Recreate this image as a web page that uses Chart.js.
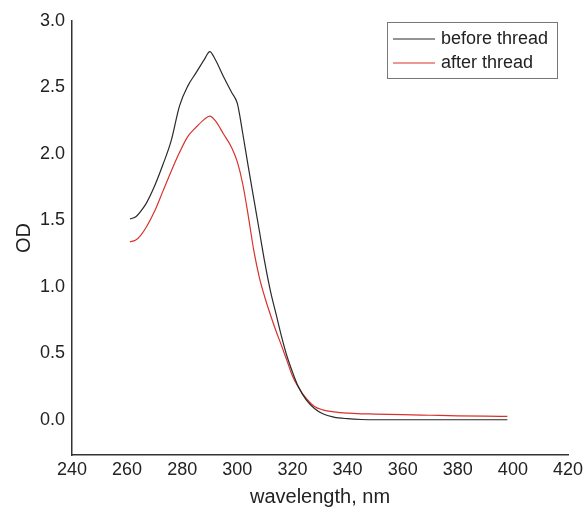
<!DOCTYPE html>
<html>
<head>
<meta charset="utf-8">
<script src="https://cdn.jsdelivr.net/npm/chart.js@4.4.1/dist/chart.umd.min.js"></script>
<style>
  html, body { margin: 0; padding: 0; background: #fff; }
  #wrap { width: 583px; height: 507px; }
</style>
</head>
<body>
<div id="wrap"><canvas id="odChart"></canvas></div>
<script>
// ── DATA ─────────────────────────────────────────────────────────────────────
const wavelength = [261, 263, 265, 267, 270, 273, 276, 279, 282, 285, 288, 290, 292, 295, 298, 300,
  302, 304, 306, 308, 310, 312, 314, 316, 318, 320, 322, 325, 328, 331, 335, 340, 345, 350, 360, 370, 380, 390, 398];
const beforeThread = [1.51, 1.525, 1.57, 1.63, 1.76, 1.92, 2.10, 2.36, 2.51, 2.61, 2.71, 2.77, 2.71, 2.58, 2.46, 2.38,
  2.15, 1.90, 1.66, 1.42, 1.18, 0.97, 0.80, 0.63, 0.48, 0.36, 0.255, 0.15, 0.085, 0.045, 0.02, 0.008, 0.002, 0.0, 0.0, 0.0, 0.0, 0.0, 0.0];
const afterThread = [1.34, 1.35, 1.39, 1.45, 1.57, 1.72, 1.87, 2.01, 2.13, 2.20, 2.26, 2.285, 2.25, 2.15, 2.045, 1.94,
  1.77, 1.53, 1.27, 1.07, 0.92, 0.79, 0.67, 0.56, 0.445, 0.33, 0.25, 0.16, 0.10, 0.075, 0.06, 0.05, 0.045, 0.043, 0.038, 0.034, 0.03, 0.027, 0.025];
const seriesNames = ['before thread', 'after thread'];
const yTicks = [0.0, 0.5, 1.0, 1.5, 2.0, 2.5, 3.0];

const FONT = '"Liberation Sans", Arial, Helvetica, sans-serif';
const TEXT = '#222';

const toPts = vals => wavelength.map((w, i) => ({ x: w, y: vals[i] }));

// ── LEGEND BOX (drawn inside the plot, top right) ────────────────────────────
const boxLegend = {
  id: 'boxLegend',
  afterDraw(chart) {
    const { ctx, chartArea } = chart;
    const right = chartArea.right - 11, top = chartArea.top + 1;
    const w = 170, h = 56;
    ctx.save();
    ctx.strokeStyle = '#777';
    ctx.lineWidth = 1;
    ctx.strokeRect(right - w + 0.5, top + 0.5, w, h);
    ctx.font = '18px ' + FONT;
    ctx.textBaseline = 'middle';
    chart.data.datasets.forEach((ds, i) => {
      const y = top + 17 + i * 24;
      ctx.strokeStyle = ds.borderColor;
      ctx.lineWidth = 1.2;
      ctx.beginPath();
      ctx.moveTo(right - w + 6, y);
      ctx.lineTo(right - w + 48, y);
      ctx.stroke();
      ctx.fillStyle = TEXT;
      ctx.fillText(ds.label, right - w + 54, y);
    });
    ctx.restore();
  }
};

// ── CHART ────────────────────────────────────────────────────────────────────
new Chart(document.getElementById('odChart'), {
  type: 'line',
  data: {
    datasets: [
      { label: seriesNames[0], data: toPts(beforeThread), borderColor: '#2a2a2a', borderWidth: 1.2, pointRadius: 0, cubicInterpolationMode: 'monotone' },
      { label: seriesNames[1], data: toPts(afterThread), borderColor: '#d8332b', borderWidth: 1.2, pointRadius: 0, cubicInterpolationMode: 'monotone' }
    ]
  },
  options: {
    responsive: true, maintainAspectRatio: false, animation: false,
    layout: { padding: { left: 0, right: 0, top: 21, bottom: 0 } },
    plugins: { legend: { display: false }, tooltip: { enabled: false } },
    scales: {
      x: {
        type: 'linear', min: 240, max: 420,
        grid: { display: false, drawTicks: false },
        border: { display: true, color: '#333', width: 1.5 },
        ticks: { stepSize: 20, color: TEXT, font: { family: FONT, size: 18 }, padding: 4, maxRotation: 0 },
        title: { display: true, text: 'wavelength, nm', color: TEXT, font: { family: FONT, size: 20 }, padding: { bottom: -2 } },
        afterFit: s => { s.height = 52; s.paddingRight = 15; }
      },
      y: {
        min: -0.265, max: 3.0,
        grid: { display: false, drawTicks: false },
        border: { display: true, color: '#333', width: 1.5 },
        afterBuildTicks: s => { s.ticks = yTicks.map(v => ({ value: v })); },
        ticks: { color: TEXT, font: { family: FONT, size: 18 }, padding: 7, callback: v => v.toFixed(1) },
        title: { display: true, text: 'OD', color: TEXT, font: { family: FONT, size: 20 }, padding: { top: 12 } },
        afterFit: s => { s.width = 72; }
      }
    }
  },
  plugins: [boxLegend]
});
</script>
</body>
</html>
